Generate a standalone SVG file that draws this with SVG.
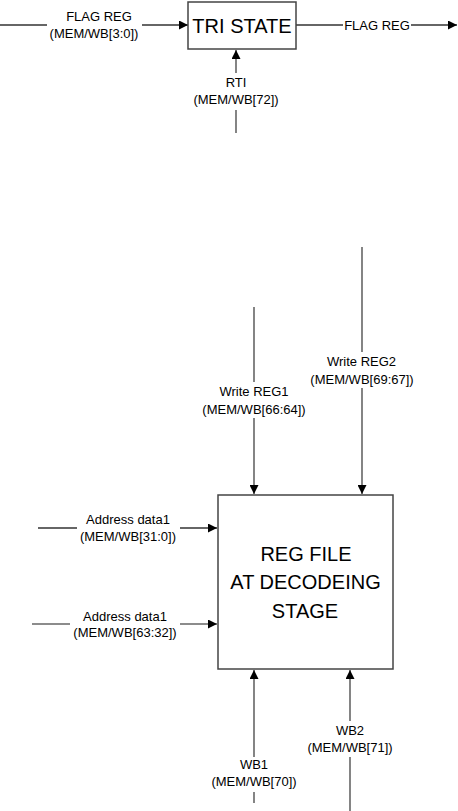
<svg xmlns="http://www.w3.org/2000/svg" width="458" height="811" viewBox="0 0 458 811">
<defs>
<marker id="ah" viewBox="0 0 10 10" refX="10" refY="5" markerWidth="9" markerHeight="9" markerUnits="userSpaceOnUse" orient="auto">
<path d="M0,0 L10,5 L0,10 Z" fill="#000"/>
</marker>
<style>
.ln{stroke:#333;stroke-width:1.3;fill:none}
.vl{stroke:#666;stroke-width:1.6;fill:none}
.box{fill:#fff;stroke:#444;stroke-width:1.5}
.lbl{font-family:"Liberation Sans",Arial,sans-serif;font-size:13px;fill:#000;text-anchor:middle}
.big{font-family:"Liberation Sans",Arial,sans-serif;font-size:20px;fill:#000;text-anchor:middle}
</style>
</defs>
<rect width="458" height="811" fill="#fff"/>
<g id="connectors">
<path class="ln" d="M0,25 H47"/>
<path class="ln" d="M142,25 H188" marker-end="url(#ah)"/>
<path class="ln" d="M296,25 H343"/>
<path class="ln" d="M411,25 H457" marker-end="url(#ah)"/>
<path class="vl" d="M236,133 V110"/>
<path class="vl" d="M236,73 V50" marker-end="url(#ah)"/>
<path class="vl" d="M254,307 V382"/>
<path class="vl" d="M254,418 V494" marker-end="url(#ah)"/>
<path class="vl" d="M362,247 V352"/>
<path class="vl" d="M362,388 V494" marker-end="url(#ah)"/>
<path class="ln" d="M38,528 H77"/>
<path class="ln" d="M180,528 H217" marker-end="url(#ah)"/>
<path class="vl" d="M32,624 H70"/>
<path class="vl" d="M180,624 H217" marker-end="url(#ah)"/>
<path class="vl" d="M254,803 V792"/>
<path class="vl" d="M254,757 V670" marker-end="url(#ah)"/>
<path class="vl" d="M350,811 V757"/>
<path class="vl" d="M350,721 V670" marker-end="url(#ah)"/>
</g>
<g id="tri-state">
<rect class="box" x="188" y="2" width="108" height="47"/>
<text class="big" x="242" y="32.5">TRI STATE</text>
</g>
<g id="reg-file">
<rect class="box" x="218" y="495" width="175" height="174"/>
<text class="big" x="306" y="561">REG FILE</text>
<text class="big" x="305.5" y="589">AT DECODEING</text>
<text class="big" x="305" y="618">STAGE</text>
</g>
<g id="labels">
<text class="lbl" x="99" y="21">FLAG REG</text>
<text class="lbl" x="94" y="38">(MEM/WB[3:0])</text>
<text class="lbl" x="377" y="29.5">FLAG REG</text>
<text class="lbl" x="236" y="87">RTI</text>
<text class="lbl" x="236" y="104">(MEM/WB[72])</text>
<text class="lbl" x="254" y="396">Write REG1</text>
<text class="lbl" x="254" y="414">(MEM/WB[66:64])</text>
<text class="lbl" x="361.5" y="366">Write REG2</text>
<text class="lbl" x="362" y="384">(MEM/WB[69:67])</text>
<text class="lbl" x="128" y="524">Address data1</text>
<text class="lbl" x="128" y="541">(MEM/WB[31:0])</text>
<text class="lbl" x="125" y="621">Address data1</text>
<text class="lbl" x="125" y="637">(MEM/WB[63:32])</text>
<text class="lbl" x="350" y="735">WB2</text>
<text class="lbl" x="350" y="752">(MEM/WB[71])</text>
<text class="lbl" x="254" y="769">WB1</text>
<text class="lbl" x="254" y="786">(MEM/WB[70])</text>
</g>
</svg>
